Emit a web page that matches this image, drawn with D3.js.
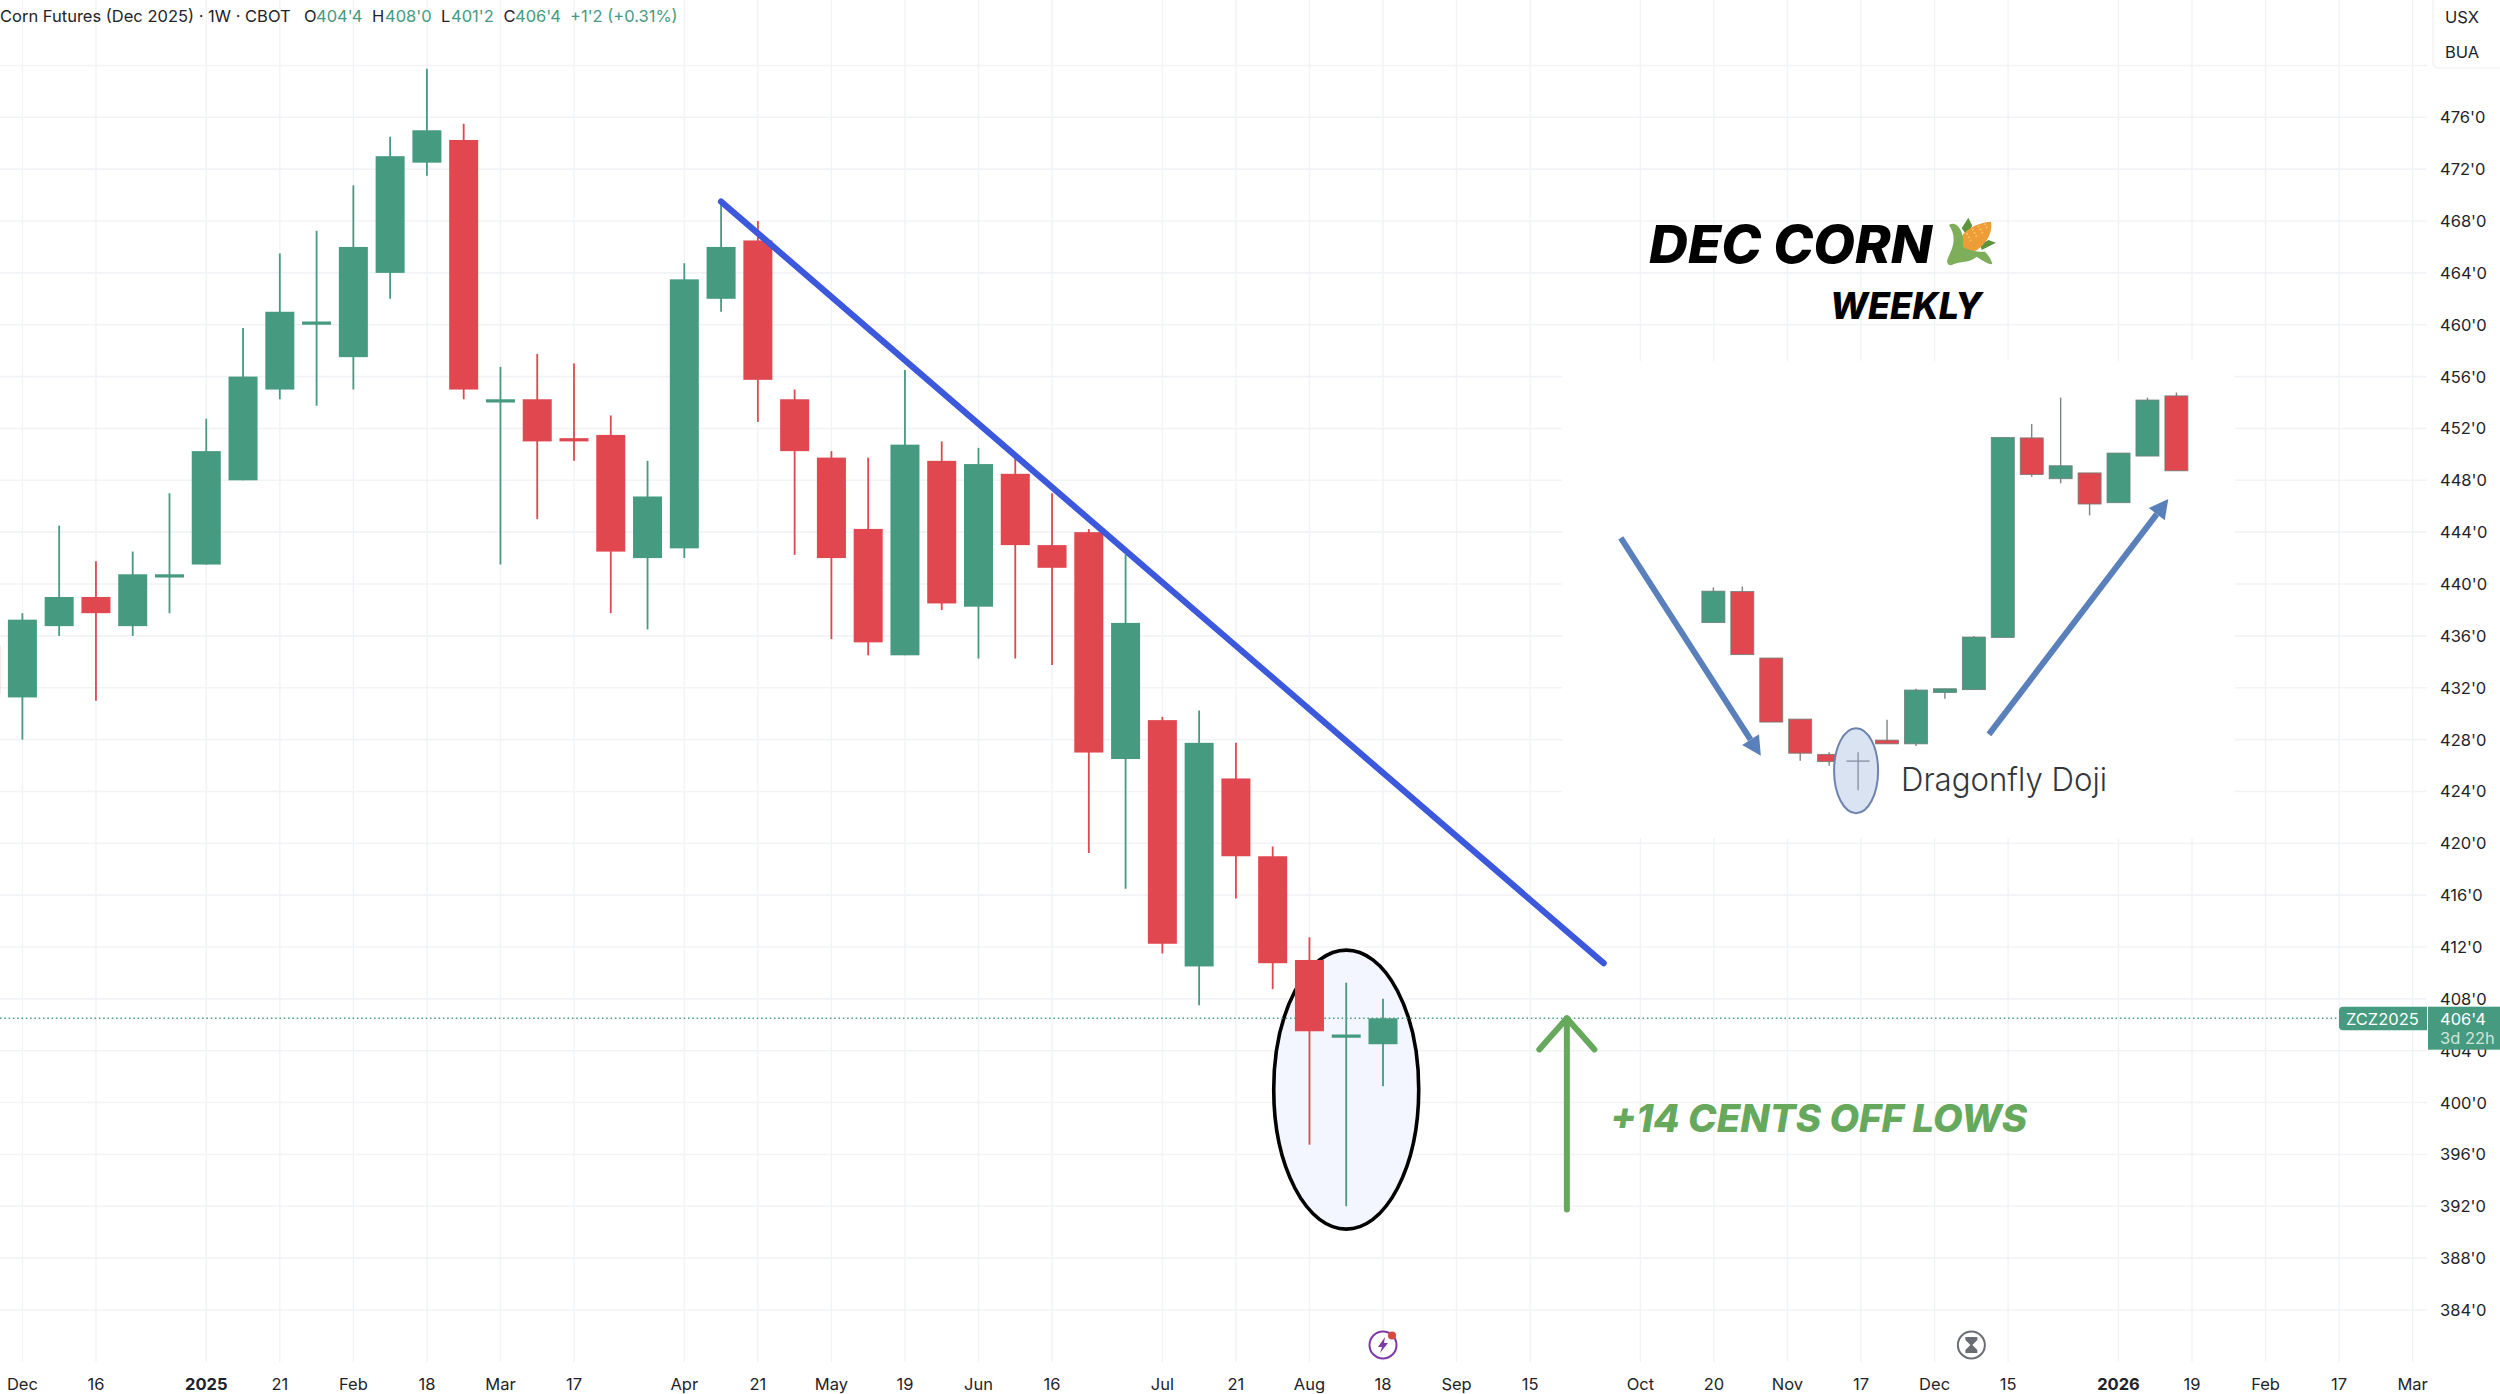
<!DOCTYPE html>
<html>
<head>
<meta charset="utf-8">
<title>Corn Futures (Dec 2025)</title>
<script src="https://cdn.jsdelivr.net/npm/d3@7"></script>
<style>
  html, body { margin: 0; padding: 0; background: #fff; }
  svg { display: block; }
  text { font-family: Inter, "Noto Sans", sans-serif; }
</style>
</head>
<body>
<svg id="chart" width="2500" height="1394"></svg>
<script>
"use strict";

// weekly candles, week index 0 = Dec 2 2024
let weeks  = [-1, 0, 1, 2, 3, 4, 5, 6, 7, 8, 9, 10, 11, 12, 13, 14, 15, 16, 17, 18, 19, 20, 21, 22, 23, 24, 25, 26, 27, 28, 29, 30, 31, 32, 33, 34, 35, 36, 37];
let opens  = [435.25, 431.25, 436.75, 439, 436.75, 440.5, 441.5, 448, 455, 460, 457.5, 464, 472.5, 474.25, 454, 454.25, 451.25, 451.5, 442, 442.75, 462, 466.5, 454.25, 449.75, 444.25, 434.5, 449.5, 438.25, 448.5, 443, 444, 426.5, 429.5, 410.5, 425, 419, 411, 405, 404.5];
let highs  = [436.5, 437.75, 444.5, 441.75, 442.5, 447, 452.75, 459.75, 465.5, 467.25, 470.75, 474.5, 479.75, 475.5, 456.75, 457.75, 457, 453, 449.5, 464.75, 469.5, 468, 455, 450.25, 449.75, 456.5, 451, 450.5, 450, 447, 444.25, 442.25, 429.75, 430.25, 427.75, 419.75, 412.75, 409.25, 408];
let lows   = [430, 428, 436, 431, 436, 437.75, 441.5, 448, 454.25, 453.75, 455, 462, 471.5, 454.25, 441.5, 445, 449.5, 437.75, 436.5, 442, 461, 452.5, 442.25, 435.75, 434.5, 434.5, 438, 434.25, 434.25, 433.75, 419.25, 416.5, 411.5, 407.5, 415.75, 408.75, 396.75, 392, 401.25];
let closes = [431.5, 437.25, 439, 437.75, 440.75, 440.75, 450.25, 456, 461, 460.25, 466, 473, 475, 455, 454.25, 451, 451, 442.5, 446.75, 463.5, 466, 455.75, 450.25, 442, 435.5, 450.75, 438.5, 449.25, 443, 441.25, 427, 437, 412.25, 427.75, 419, 410.75, 405.5, 405.25, 406.5];

let priceTicks = [476, 472, 468, 464, 460, 456, 452, 448, 444, 440, 436, 432, 428, 424, 420, 416, 412, 408, 404, 400, 396, 392, 388, 384];
let gridOnlyPrices = [480];

let timeTicks  = [0, 2, 5, 7, 9, 11, 13, 15, 18, 20, 22, 24, 26, 28, 31, 33, 35, 37, 39, 41, 44, 46, 48, 50, 52, 54, 57, 59, 61, 63, 65];
let timeLabels = ["Dec", "16", "2025", "21", "Feb", "18", "Mar", "17", "Apr", "21", "May", "19", "Jun", "16", "Jul", "21", "Aug", "18", "Sep", "15", "Oct", "20", "Nov", "17", "Dec", "15", "2026", "19", "Feb", "17", "Mar"];

// the pasted example picture on the right, prices on the same axis
let insetSlots  = [0, 1, 2, 3, 4, 6, 7, 8, 9, 10, 11, 12, 13, 14, 15, 16];
let insetOpens  = [437.02, 439.42, 434.29, 429.58, 426.86, 427.96, 427.67, 431.63, 431.85, 435.88, 451.27, 448.12, 448.57, 446.27, 449.87, 454.51];
let insetHighs  = [439.74, 439.81, 434.29, 429.58, 427.02, 429.52, 431.92, 431.92, 435.98, 451.3, 452.34, 454.38, 448.57, 450.1, 454.38, 454.77];
let insetLows   = [437.02, 434.55, 429.35, 426.37, 425.98, 427.67, 427.5, 431.14, 431.85, 435.88, 448.28, 447.76, 445.29, 446.27, 449.87, 448.73];
let insetCloses = [439.45, 434.55, 429.35, 426.95, 426.3, 427.67, 431.82, 431.92, 435.91, 451.3, 448.44, 449.12, 446.17, 450.1, 454.19, 448.73];
let dojiSlot = 5, dojiHigh = 427.02, dojiLow = 424.1, dojiClose = 426.34;

let green = "#459a80";
let red = "#e0474f";
let gridColor = "#f1f3f6";
let annotationGreen = "#66a85c";
let lastPrice = 406.5;

let svg = d3.select("#chart");

let x = d3.scaleLinear().domain([0, 37]).range([22.4, 1383]);
let y = d3.scaleLinear().domain([476, 384]).range([117.3, 1310]);
let xInset = d3.scaleLinear().domain([0, 16]).range([1713.4, 2176.4]);

function priceText(p) {
  let whole = Math.floor(p);
  return whole + "'" + Math.round((p - whole) * 8);
}

// grid
let grid = svg.append("g");
grid.selectAll("line.h").data(priceTicks.concat(gridOnlyPrices)).enter().append("line")
  .attr("class", "h")
  .attr("x1", 0).attr("x2", 2427)
  .attr("y1", d => y(d)).attr("y2", d => y(d))
  .attr("stroke", gridColor).attr("stroke-width", 1.6);
grid.selectAll("line.v").data(timeTicks).enter().append("line")
  .attr("class", "v")
  .attr("x1", d => x(d)).attr("x2", d => x(d))
  .attr("y1", 0).attr("y2", 1362)
  .attr("stroke", gridColor).attr("stroke-width", 1.4);

// white patch of the pasted picture hides the grid
svg.append("rect").attr("x", 1562).attr("y", 361).attr("width", 673).attr("height", 477).attr("fill", "#fff");

// circle round the last weeks
svg.append("ellipse")
  .attr("cx", x(36)).attr("cy", y(401))
  .attr("rx", 72.5).attr("ry", 139.5)
  .attr("fill", "#f3f6fe").attr("stroke", "#000").attr("stroke-width", 3.6);

// last price line
svg.append("line")
  .attr("x1", 0).attr("x2", 2339)
  .attr("y1", y(lastPrice)).attr("y2", y(lastPrice))
  .attr("stroke", green).attr("stroke-width", 1.4).attr("stroke-dasharray", "1.5 2.8");

// candles
let candles = svg.append("g").selectAll("g").data(weeks).enter().append("g")
  .attr("fill", (d, i) => closes[i] >= opens[i] ? green : red)
  .attr("stroke", (d, i) => closes[i] >= opens[i] ? green : red);
candles.append("line")
  .attr("x1", d => x(d)).attr("x2", d => x(d))
  .attr("y1", (d, i) => y(highs[i])).attr("y2", (d, i) => y(lows[i]))
  .attr("stroke-width", 1.8);
candles.append("rect")
  .attr("x", d => x(d) - 14.5)
  .attr("width", 29)
  .attr("y", (d, i) => y(Math.max(opens[i], closes[i])))
  .attr("height", (d, i) => y(Math.min(opens[i], closes[i])) - y(Math.max(opens[i], closes[i])))
  .attr("stroke", "none");

// trend line
svg.append("line")
  .attr("x1", x(19)).attr("y1", y(469.5))
  .attr("x2", x(43)).attr("y2", y(410.75))
  .attr("stroke", "#3c58dc").attr("stroke-width", 6.2).attr("stroke-linecap", "round");

// +14 cents arrow
let upArrow = svg.append("g").attr("fill", "none").attr("stroke", annotationGreen)
  .attr("stroke-width", 6).attr("stroke-linecap", "round").attr("stroke-linejoin", "round");
upArrow.append("line")
  .attr("x1", x(42)).attr("x2", x(42))
  .attr("y1", y(391.75)).attr("y2", y(lastPrice));
upArrow.append("polyline")
  .attr("points", [[x(41.25), y(404.1)], [x(42), y(lastPrice)], [x(42.75), y(404.1)]].join(" "));

svg.append("text")
  .attr("x", 1610).attr("y", 1132)
  .attr("font-size", 38).attr("font-weight", 800).attr("font-style", "italic")
  .attr("fill", annotationGreen)
  .attr("textLength", 417).attr("lengthAdjust", "spacingAndGlyphs")
  .text("+14 CENTS OFF LOWS");

// heading
svg.append("text")
  .attr("x", 1649).attr("y", 263)
  .attr("font-size", 52).attr("font-weight", 800).attr("font-style", "italic").attr("fill", "#000")
  .attr("textLength", 283).attr("lengthAdjust", "spacingAndGlyphs")
  .text("DEC CORN");
svg.append("text")
  .attr("x", 1830).attr("y", 319)
  .attr("font-size", 37).attr("font-weight", 800).attr("font-style", "italic").attr("fill", "#000")
  .attr("textLength", 152).attr("lengthAdjust", "spacingAndGlyphs")
  .text("WEEKLY");

// corn cob next to the heading, drawn at 3x then scaled down
let corn = svg.append("g").attr("transform", "translate(1935,205) scale(0.3333)");
corn.append("path").attr("d", "M80,70 L100,38 L112,62 L95,90 Z").attr("fill", "#5d9440");
corn.append("path").attr("d", "M140,135 L183,113 L160,105 L135,120 Z").attr("fill", "#5d9440");
corn.append("path").attr("d", "M78,100 C85,75 130,52 168,50 C174,85 150,125 112,142 L85,130 Z").attr("fill", "#ee9c38");
corn.append("path").attr("d", "M95,85 L108,108 M112,72 L125,95 M130,62 L143,85 M148,56 L158,72")
  .attr("stroke", "#f6c45c").attr("stroke-width", 6).attr("stroke-dasharray", "5 6").attr("fill", "none");
corn.append("path")
  .attr("d", "M42,60 C60,48 80,68 84,100 L84,125 C100,136 130,142 150,140 C160,150 170,165 172,178 C155,176 140,165 125,155 C105,175 72,168 55,178 C45,186 33,176 37,164 C45,140 72,105 42,60 Z")
  .attr("fill", "#7fae5a");

// inset: long blue arrows
function blueArrow(from, to) {
  let a = Math.atan2(to[1] - from[1], to[0] - from[0]);
  let head = 19, half = 10;
  let baseX = to[0] - head * Math.cos(a), baseY = to[1] - head * Math.sin(a);
  svg.append("line")
    .attr("x1", from[0]).attr("y1", from[1]).attr("x2", baseX).attr("y2", baseY)
    .attr("stroke", "#5a80bb").attr("stroke-width", 6);
  svg.append("polygon")
    .attr("points", [
      to,
      [baseX + half * Math.sin(a), baseY - half * Math.cos(a)],
      [baseX - half * Math.sin(a), baseY + half * Math.cos(a)]
    ].join(" "))
    .attr("fill", "#5a80bb");
}
blueArrow([xInset(-3.2), y(443.55)], [xInset(1.64), y(426.76)]);
blueArrow([xInset(9.52), y(428.4)], [xInset(15.72), y(446.56)]);

// inset: candles
let insetCandles = svg.append("g").selectAll("g").data(insetSlots).enter().append("g");
insetCandles.append("line")
  .attr("x1", d => xInset(d)).attr("x2", d => xInset(d))
  .attr("y1", (d, i) => y(insetHighs[i])).attr("y2", (d, i) => y(insetLows[i]))
  .attr("stroke", "#7d8583").attr("stroke-width", 1.4);
insetCandles.append("rect")
  .attr("x", d => xInset(d) - 11.5)
  .attr("width", 23)
  .attr("y", (d, i) => y(Math.max(insetOpens[i], insetCloses[i])))
  .attr("height", (d, i) => y(Math.min(insetOpens[i], insetCloses[i])) - y(Math.max(insetOpens[i], insetCloses[i])))
  .attr("fill", (d, i) => insetCloses[i] >= insetOpens[i] ? green : red)
  .attr("stroke", "#6f7f7a").attr("stroke-width", 0.8);

// inset: dragonfly doji
svg.append("ellipse")
  .attr("cx", xInset(dojiSlot) - 2).attr("cy", y(425.6))
  .attr("rx", 22).attr("ry", 42.5)
  .attr("fill", "#d9e3f2").attr("stroke", "#6d83ad").attr("stroke-width", 2);
svg.append("line")
  .attr("x1", xInset(dojiSlot)).attr("x2", xInset(dojiSlot))
  .attr("y1", y(dojiHigh)).attr("y2", y(dojiLow))
  .attr("stroke", "#8a93a3").attr("stroke-width", 1.4);
svg.append("line")
  .attr("x1", xInset(dojiSlot) - 11.5).attr("x2", xInset(dojiSlot) + 11.5)
  .attr("y1", y(dojiClose)).attr("y2", y(dojiClose))
  .attr("stroke", "#8a93a3").attr("stroke-width", 1.4);
svg.append("text")
  .attr("x", 1901).attr("y", 791)
  .attr("font-size", 32).attr("fill", "#33373d").attr("font-weight", 300)
  .attr("textLength", 206).attr("lengthAdjust", "spacingAndGlyphs")
  .text("Dragonfly Doji");

// price axis labels
svg.append("g").selectAll("text").data(priceTicks).enter().append("text")
  .attr("x", 2440)
  .attr("y", d => y(d) + 6)
  .attr("font-size", 16.5)
  .attr("fill", "#1f2328")
  .text(d => priceText(d));

// top right corner
svg.append("rect").attr("x", 2433).attr("y", -8).attr("width", 80).attr("height", 76).attr("rx", 6)
  .attr("fill", "#fff").attr("stroke", "#f1f3f6").attr("stroke-width", 1.4);
svg.append("text").attr("x", 2445).attr("y", 22.7).attr("font-size", 16.5).attr("fill", "#1f2328").text("USX");
svg.append("text").attr("x", 2445).attr("y", 57.7).attr("font-size", 16.5).attr("fill", "#1f2328").text("BUA");

// last price tags
svg.append("path")
  .attr("d", "M2427,1006.7 H2343 a4,4 0 0 0 -4,4 V1026.3 a4,4 0 0 0 4,4 H2427 Z")
  .attr("fill", green);
svg.append("text").attr("x", 2346).attr("y", 1024.5).attr("font-size", 16.5).attr("fill", "#fff").text("ZCZ2025");
svg.append("rect").attr("x", 2428).attr("y", 1006.7).attr("width", 72).attr("height", 43).attr("fill", green);
svg.append("text").attr("x", 2440).attr("y", 1024.5).attr("font-size", 16.5).attr("fill", "#fff").text(priceText(lastPrice));
svg.append("text").attr("x", 2440).attr("y", 1044).attr("font-size", 16.5).attr("fill", "#cfe6de").text("3d 22h");

// time axis labels
svg.append("g").selectAll("text").data(timeTicks).enter().append("text")
  .attr("x", d => x(d))
  .attr("y", 1390)
  .attr("text-anchor", "middle")
  .attr("font-size", 16.5)
  .attr("font-weight", (d, i) => timeLabels[i].length === 4 ? 700 : 400)
  .attr("fill", "#1f2328")
  .text((d, i) => timeLabels[i]);

// legend line, split in the pieces TradingView colours
let legendBits = [
  { label: "Corn Futures (Dec 2025) \u00b7 1W \u00b7 CBOT", at: 0, value: false },
  { label: "O", at: 304, value: false },
  { label: "404'4", at: 316, value: true },
  { label: "H", at: 372, value: false },
  { label: "408'0", at: 385, value: true },
  { label: "L", at: 441, value: false },
  { label: "401'2", at: 451, value: true },
  { label: "C", at: 503.5, value: false },
  { label: "406'4", at: 515, value: true },
  { label: "+1'2 (+0.31%)", at: 570, value: true }
];
svg.append("g").selectAll("text").data(legendBits).enter().append("text")
  .attr("x", d => d.at)
  .attr("y", 22)
  .attr("font-size", 16.5)
  .attr("fill", d => d.value ? green : "#1f2328")
  .text(d => d.label);

// chart event icons under the last candle and at the contract end
let bolt = svg.append("g").attr("transform", "translate(" + x(37) + ",1345)");
bolt.append("circle").attr("r", 13.5).attr("fill", "#fff").attr("stroke", "#7b3aa6").attr("stroke-width", 2);
bolt.append("path").attr("d", "M2,-8 L-5,2 L-1,2 L-3,8 L5,-2 L1,-2 Z").attr("fill", "#7b3aa6");
bolt.append("circle").attr("cx", 9).attr("cy", -9.5).attr("r", 4).attr("fill", "#d9483f");

let glass = svg.append("g").attr("transform", "translate(" + x(53) + ",1345)");
glass.append("circle").attr("r", 13.5).attr("fill", "#fff").attr("stroke", "#6a6d73").attr("stroke-width", 2);
glass.append("path").attr("d", "M-6,-8 H6 V-5 L1,0 L6,5 V8 H-6 V5 L-1,0 L-6,-5 Z").attr("fill", "#6a6d73");
</script>
</body>
</html>
